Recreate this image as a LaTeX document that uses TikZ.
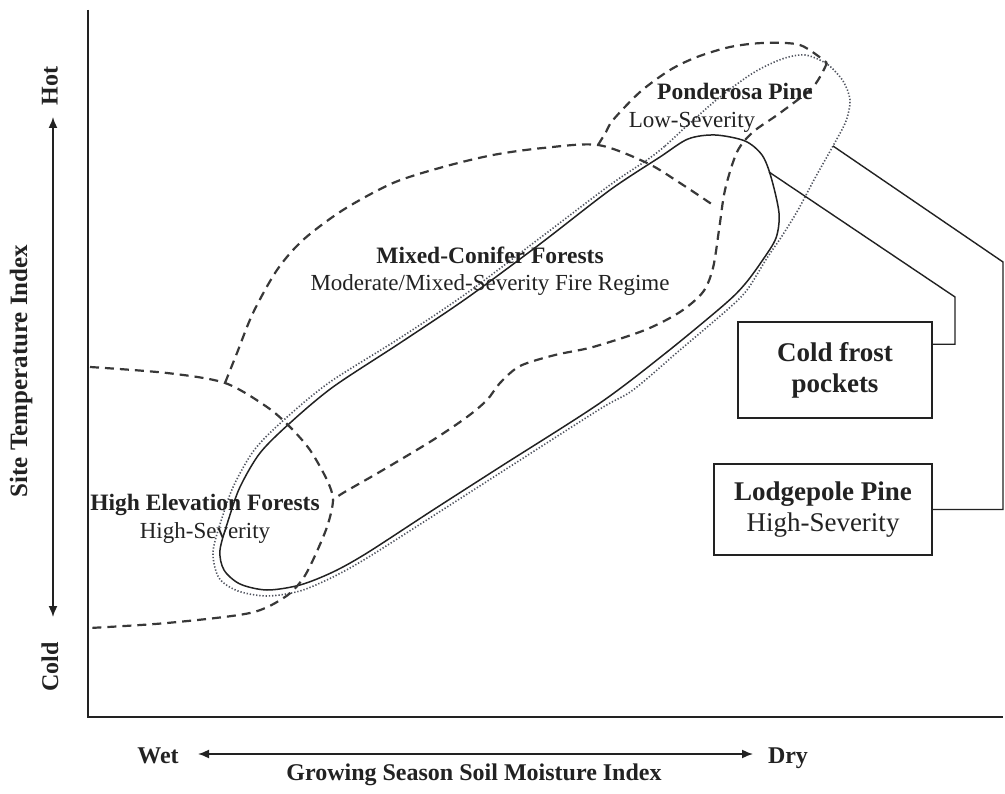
\documentclass[tikz,border=0pt]{standalone}
\usepackage{fontspec}
\setmainfont{Liberation Serif}
\usetikzlibrary{arrows.meta,calc}
\definecolor{ink}{HTML}{222222}
\definecolor{dotc}{HTML}{50545F}
\begin{document}
\begin{tikzpicture}[x=1pt,y=-1pt,
  bound/.style={line width=1.5pt,draw=ink,line join=round},
  dsh/.style={line width=2.2pt,draw=ink!90,dash pattern=on 9pt off 6pt},
  dotline/.style={line width=1.6pt,draw=dotc,dash pattern=on 1.3pt off 1.9pt},
  conn/.style={line width=1.4pt,draw=ink},
  axisline/.style={line width=1.6pt,draw=ink},
  dblarrow/.style={line width=1.6pt,draw=ink,{Latex[length=11pt,width=9pt]}-{Latex[length=11pt,width=9pt]}},
  lbl/.style={font=\fontsize{23}{26}\selectfont,text=ink,inner sep=0pt,anchor=base},
  lblb/.style={font=\fontsize{23.5}{26}\selectfont\bfseries,text=ink,inner sep=0pt,anchor=base},
  axlbl/.style={font=\fontsize{24}{26}\selectfont\bfseries,text=ink,inner sep=0pt},
  boxnode/.style={draw=ink,line width=1.4pt,inner sep=0pt,align=center,text=ink,
    font=\fontsize{27}{31}\selectfont}
]
\useasboundingbox (0,0) rectangle (1005,794);
\fill[white] (0,0) rectangle (1005,794);

% axes
\coordinate (ytop) at (88,10);
\coordinate (orig) at (88,717);
\coordinate (xend) at (1003,717);
\draw[axisline] (ytop) -- (orig) -- (xend);

% axis arrows
\coordinate (th) at (53,117);
\coordinate (tc) at (53,617);
\draw[dblarrow] (tc) -- (th);
\coordinate (mw) at (198,754);
\coordinate (md) at (753,754);
\draw[dblarrow] (mw) -- (md);

\node[axlbl,rotate=90] (hot) at (50,86) {Hot};
\node[axlbl,rotate=90] (cold) at (50,667) {Cold};
\node[axlbl,rotate=90,font=\fontsize{25}{28}\selectfont\bfseries] (sti) at (21,371) {Site Temperature Index};
\node[axlbl,anchor=base] (wet) at (158,763) {Wet};
\node[axlbl,anchor=base] (dry) at (788,763) {Dry};
\node[axlbl,anchor=base] (gss) at (474,780) {Growing Season Soil Moisture Index};

% dotted loop
\draw[dotline] plot[smooth cycle,tension=0.5] coordinates {
 (647,160) (665,146) (690,123) (720,97) (753,73) (782,59) (805,55) (827,64) (843,81)
 (850,100) (846,121) (833,146) (815,178) (798,210) (782,236) (767,258) (747,290)
 (727,310) (680,350) (633,390) (600,409) (500,473) (433,516) (367,558) (333,577)
 (300,591) (267,596) (238,591) (219,578) (213,552) (222,518) (234,485) (255,449)
 (286,418) (330,382) (400,338) (467,293) (540,238) (610,185)};

% solid loop
\draw[bound] plot[smooth cycle,tension=0.5] coordinates {
 (660,157) (688,139) (715,135) (745,141) (762,155) (771,177) (779,213) (776,238)
 (762,261) (745,284) (725,304) (667,352) (600,403) (500,467) (433,510) (367,553)
 (333,572) (300,585) (267,590) (240,584) (224,570) (220,550) (229,518) (240,487)
 (260,453) (290,423) (333,387) (400,343) (467,298) (540,244) (610,190)};

% junction coordinates
\coordinate (jA) at (598,145);
\coordinate (jB) at (225,383);
\coordinate (jC) at (713,205);
\coordinate (jD) at (333,500);
\coordinate (tip) at (827,63);

% ponderosa loop and mixed-conifer lower boundary
\draw[dsh] plot[smooth,tension=0.5] coordinates {
 (jA) (606,132) (613,120) (640,92) (670,70) (697,57) (730,47) (763,43) (800,45) (tip)};
\draw[dsh] plot[smooth,tension=0.5] coordinates {
 (tip) (813,87) (780,113) (753,132) (737,152) (725,190) (719,230) (713,268) (703,292)
 (680,312) (645,330) (593,347) (555,355) (520,366) (500,383) (487,400) (467,417)
 (433,440) (383,470) (343,493) (jD)};

% mixed-conifer upper boundary
\draw[dsh] plot[smooth,tension=0.5] coordinates {
 (jB) (237,353) (253,313) (277,270) (303,240) (343,210) (393,183) (443,167) (493,155)
 (543,148) (jA) (647,163) (680,183) (jC)};

% high elevation boundary
\draw[dsh] plot[smooth,tension=0.5] coordinates {
 (90,367) (167,373) (jB) (267,407) (290,427) (310,450) (327,480) (jD) (327,527)
 (313,560) (302,580) (285,597) (250,613) (167,623) (90,628)};

% region labels
\node[lblb] (pp) at (735,100) {Ponderosa Pine};
\node[lbl] (pps) at (692,128) {Low-Severity};
\node[lblb] (mc) at (490,264) {Mixed-Conifer Forests};
\node[lbl] (mcs) at (490,291) {Moderate/Mixed-Severity Fire Regime};
\node[lblb] (he) at (205,511) {High Elevation Forests};
\node[lbl] (hes) at (205,538) {High-Severity};

% boxes
\node[boxnode,minimum width=194pt,minimum height=96pt] (cf) at (835,370)
  {\bfseries Cold frost\\\bfseries pockets};
\node[boxnode,minimum width=218pt,minimum height=91pt] (lp) at (823,509.5)
  {\bfseries Lodgepole Pine\\High-Severity};

% connectors
\coordinate (s1) at (769,172);
\coordinate (k1) at (955,297);
\draw[conn] (s1) -- (k1) |- ($(cf.north east)+(0,23)$);
\coordinate (d1) at (833,146);
\coordinate (k2) at (1003,262);
\draw[conn] (d1) -- (k2) |- (lp.east);
\end{tikzpicture}
\end{document}
